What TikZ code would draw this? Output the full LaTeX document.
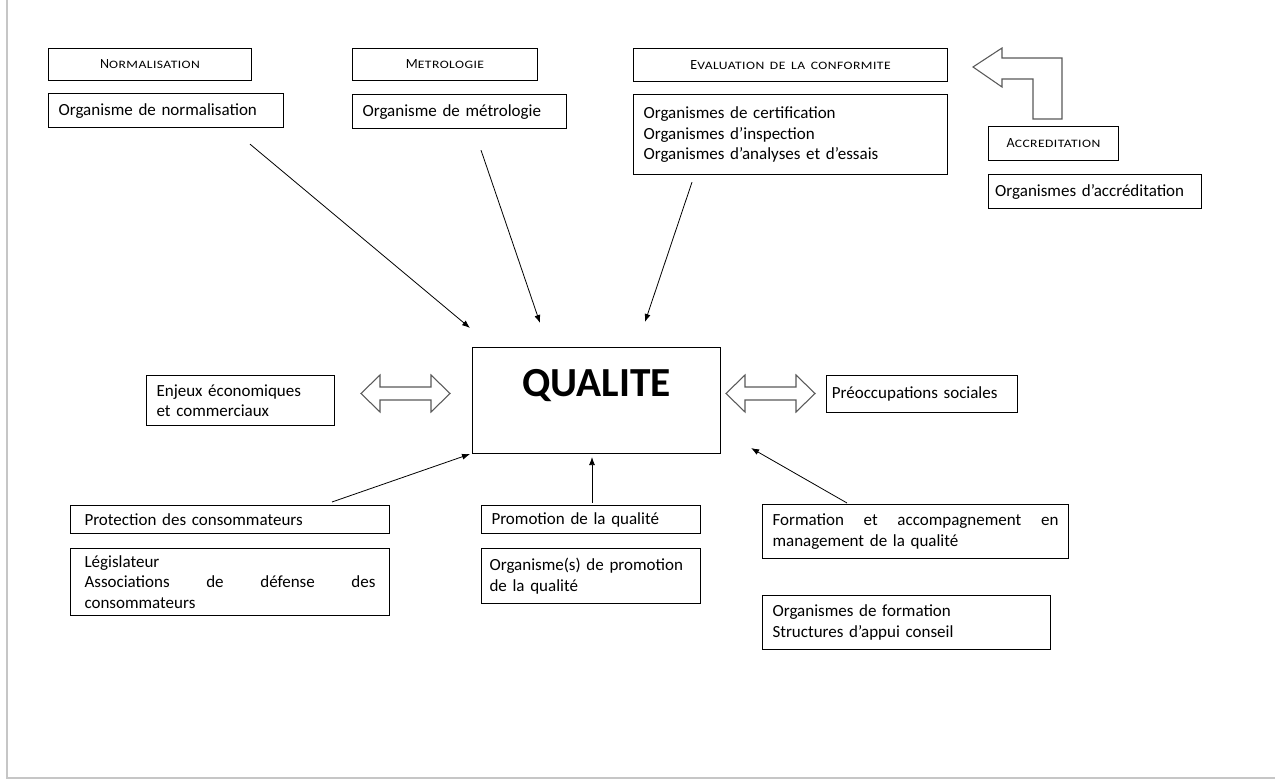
\documentclass[tikz,border=0pt]{standalone}
\usepackage{fontspec}
\setmainfont{Carlito}
\usetikzlibrary{positioning,arrows.meta}

\tikzstyle{boite} = [draw, line width=0.8pt, anchor=north west, inner xsep=7.5pt, inner ysep=0pt, align=left, font=\fontsize{12.75}{15.3}\selectfont]
\tikzstyle{titre} = [boite, align=center]
\tikzstyle{fleche} = [->, >={Latex[length=6pt,width=4.5pt]}, line width=0.6pt]
\tikzstyle{creuse} = [draw=black!65, line width=0.8pt, fill=white]

\newcommand{\pc}[2]{{\fontsize{10.5}{13}\selectfont#1}{\fontsize{8.5}{13}\selectfont\addfontfeature{FakeStretch=1.2,LetterSpace=4}#2}}

\tikzset{dfleche/.pic={
  \draw [creuse] (-44.5,0) -- (-25.5,-18.5) -- (-25.5,-6.5) -- (25.5,-6.5) -- (25.5,-18.5) -- (44.5,0)
    -- (25.5,18.5) -- (25.5,6.5) -- (-25.5,6.5) -- (-25.5,18.5) -- cycle;
}}

\begin{document}
\begin{tikzpicture}[x=0.75pt, y=-0.75pt]
\useasboundingbox (0,0) rectangle (1275,780);
\draw [gray!45, line width=1.2pt] (7,0) -- (7,778) -- (1275,778);

% en haut
\node (normtitre) [titre, text width=137.25pt, minimum height=24pt] at (48,48) {\pc{N}{ORMALISATION}};
\node (normorg) [boite, text width=161.25pt, minimum height=25.5pt, below=9pt of normtitre.south west, anchor=north west] {Organisme de normalisation};

\node (metrotitre) [titre, text width=123.75pt, minimum height=24pt] at (352,48) {\pc{M}{ETROLOGIE}};
\node (metroorg) [boite, text width=145.5pt, minimum height=25.5pt, below=9.75pt of metrotitre.south west, anchor=north west] {Organisme de métrologie};

\node (evaltitre) [titre, text width=220.5pt, minimum height=24.75pt] at (633,48) {\pc{E}{VALUATION DE LA CONFORMITE}};
\node (evalorg) [boite, text width=220.5pt, minimum height=60pt, below=9pt of evaltitre.south west, anchor=north west] {Organismes de certification\\Organismes d’inspection\\Organismes d’analyses et d’essais};

\node (accrtitre) [titre, text width=82.5pt, minimum height=25.5pt] at (988,126) {\pc{A}{CCREDITATION}};
\node (accrorg) [boite, inner xsep=5pt, text width=149.75pt, minimum height=25.5pt, below=9.75pt of accrtitre.south west, anchor=north west] {Organismes d’accréditation};

\draw [creuse] (973,67) -- (1002,48) -- (1002,58) -- (1062,58) -- (1062,119) -- (1033,119) -- (1033,79) -- (1002,79) -- (1002,87) -- cycle;

% milieu
\node (qualite) [titre, text width=171pt, minimum height=79.5pt, font=\fontsize{31}{35}\selectfont\bfseries] at (472,347) {\raisebox{27pt}{QUALITE}};
\node (enjeux) [boite, text width=126pt, minimum height=37.5pt] at (146,375) {Enjeux économiques\\et commerciaux};
\node (preoc) [boite, inner xsep=4pt, text width=135.25pt, minimum height=27.75pt] at (826,375) {Préoccupations sociales};

\pic at (405.5,393.5) {dfleche};
\pic at (770.5,393.5) {dfleche};

% en bas
\node (protect) [boite, inner xsep=10.5pt, text width=218.25pt, minimum height=21pt] at (70,505) {Protection des consommateurs};
\node (legis) [boite, inner xsep=10.5pt, text width=218.25pt, minimum height=50.25pt, below=10.5pt of protect.south west, anchor=north west] {Législateur\\\leavevmode\hbox to 218.25pt{Associations\hfill de\hfill défense\hfill des}\\consommateurs};

\node (promo) [boite, text width=149.25pt, minimum height=21pt] at (481,505) {Promotion de la qualité};
\node (promorg) [boite, inner xsep=6pt, text width=152.25pt, minimum height=41.25pt, below=10.5pt of promo.south west, anchor=north west] {Organisme(s) de promotion\\de la qualité};

\node (form) [boite, text width=214.5pt, minimum height=40.5pt] at (762,504) {\leavevmode\hbox to 214.5pt{Formation\hfill et\hfill accompagnement\hfill en}\\management de la qualité};
\node (formorg) [boite, text width=201pt, minimum height=40.5pt, below=27pt of form.south west, anchor=north west] {Organismes de formation\\Structures d’appui conseil};

\draw [fleche] ([shift={(202,16)}]normorg.south west) -- ([shift={(-2,-19)}]qualite.north west);
\draw [fleche] ([shift={(129,21)}]metroorg.south west) -- ([shift={(68,-24)}]qualite.north west);
\draw [fleche] ([shift={(59,7)}]evalorg.south west) -- ([shift={(173,-25)}]qualite.north west);
\draw [fleche] ([shift={(262,-3)}]protect.north west) -- ([shift={(-2,0)}]qualite.south west);
\draw [fleche] ([shift={(111,-2)}]promo.north west) -- ([shift={(120,3)}]qualite.south west);
\draw [fleche] ([shift={(85,-1)}]form.north west) -- ([shift={(30,-6)}]qualite.south east);

\end{tikzpicture}
\end{document}
